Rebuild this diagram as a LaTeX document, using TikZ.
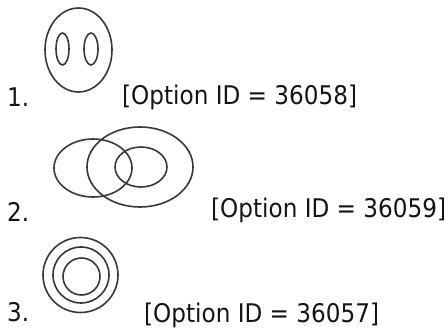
\documentclass[tikz,border=0pt]{standalone}
\usepackage{fontspec}
\setmainfont{DejaVu Sans}[FakeStretch=0.9]
\begin{document}
\begin{tikzpicture}[x=1pt,y=-1pt,
  ring/.style={draw=black!78,line width=1.6pt},
  lbl/.style={anchor=base west,inner sep=0pt,text=black!92,font=\fontsize{25.7}{30}\selectfont}]
\useasboundingbox (0,0) rectangle (448,331);
% shape 1
\draw[ring] (78.5,50) ellipse [x radius=33.5,y radius=42];
\draw[ring] (62.5,49) ellipse [x radius=6.5,y radius=16];
\draw[ring] (91,49) ellipse [x radius=7,y radius=16];
% shape 2
\draw[ring] (93,168) ellipse [x radius=39,y radius=29];
\draw[ring] (140,167) ellipse [x radius=53,y radius=40];
\draw[ring] (141,167) ellipse [x radius=26,y radius=20];
% shape 3
\draw[ring] (80.5,275) circle [radius=37.5];
\draw[ring] (81,275) circle [radius=28];
\draw[ring] (81.5,276.5) circle [radius=18.5];
% labels
\node[lbl] (n1) at (7,107) {1.};
\node[lbl] (o1) at (122,105) {[Option ID = 36058]};
\node[lbl] (n2) at (7,222) {2.};
\node[lbl] (o2) at (211,218) {[Option ID = 36059]};
\node[lbl] (n3) at (7,322) {3.};
\node[lbl] (o3) at (144,323) {[Option ID = 36057]};
\end{tikzpicture}
\end{document}
